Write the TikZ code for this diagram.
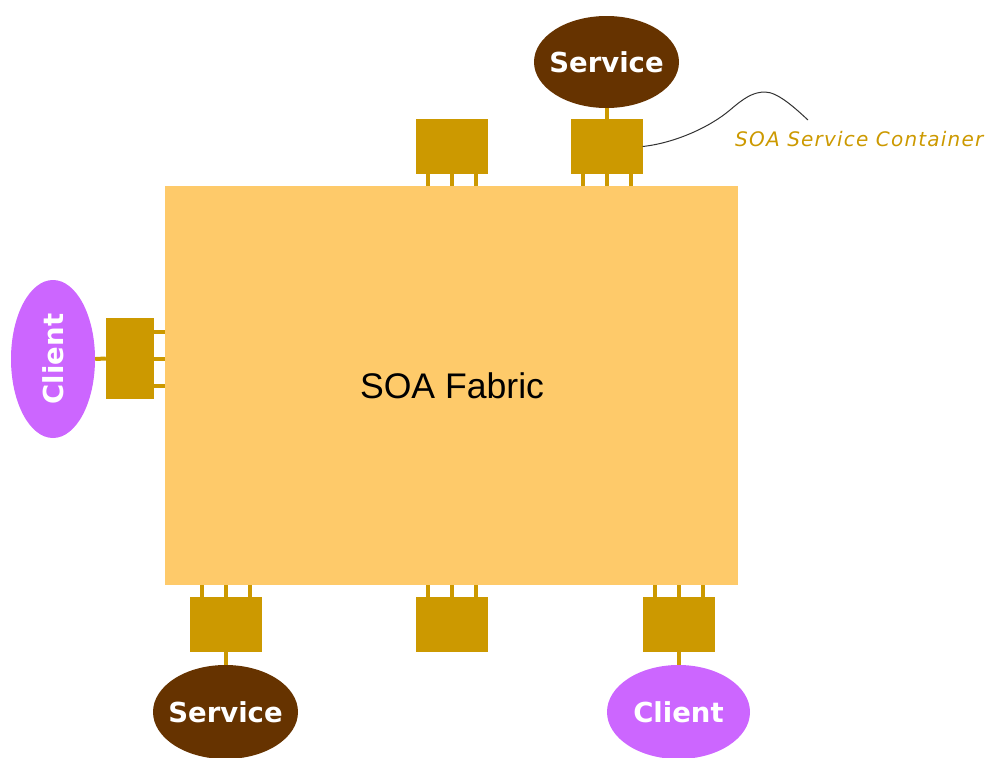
\documentclass[tikz,border=0pt]{standalone}
\usepackage{fontspec}
\setmainfont{Liberation Sans}
\newfontfamily\labelfont{DejaVu Sans}
\usetikzlibrary{shapes.geometric}
\definecolor{fabriccol}{HTML}{FECA6A}
\definecolor{boxcol}{HTML}{CC9900}
\definecolor{servcol}{HTML}{663300}
\definecolor{clientcol}{HTML}{CC66FF}
\tikzset{
  fabricbox/.style={fill=fabriccol, draw=none, minimum width=573pt, minimum height=399pt, inner sep=0},
  contbox/.style={fill=boxcol, draw=none, minimum width=72pt, minimum height=55pt, inner sep=0},
  contboxv/.style={fill=boxcol, draw=none, minimum width=48pt, minimum height=81pt, inner sep=0},
  pinline/.style={draw=boxcol, line width=4pt},
  elltext/.style={text=white, font=\labelfont\bfseries\fontsize{27.5}{30}\selectfont, inner sep=0},
  servell/.style={ellipse, fill=servcol, draw=none, minimum width=145pt, minimum height=92pt, inner sep=0},
  clientell/.style={ellipse, fill=clientcol, draw=none, minimum width=143pt, minimum height=94pt, inner sep=0},
}
\begin{document}
\begin{tikzpicture}[x=1pt,y=-1pt]
\useasboundingbox (0,0) rectangle (989,758);
% fabric
\node[fabricbox] (fab) at (451.5,385.5) {};
\node[font=\fontsize{35.6}{40}\selectfont] (fabtxt) at (452,386) {SOA Fabric};
% top containers
\node[contbox] (c1) at (452,146.5) {};
\node[contbox] (c2) at (606.5,146.5) {};
% bottom containers
\node[contbox] (c3) at (225.5,624.5) {};
\node[contbox] (c4) at (452,624.5) {};
\node[contbox] (c5) at (678.5,624.5) {};
% left container
\node[contboxv] (c6) at (130,358.5) {};
% pins
\foreach \c in {c1,c2} {
  \foreach \d in {-24,0,24}
    \draw[pinline] ([xshift=\d pt]\c.south) -- ([xshift=\d pt]\c.south |- fab.north);
}
\foreach \c in {c3,c4,c5} {
  \foreach \d in {-24,0,24}
    \draw[pinline] ([xshift=\d pt]\c.north) -- ([xshift=\d pt]\c.north |- fab.south);
}
\foreach \d in {-27,0,27}
  \draw[pinline] ([yshift=\d pt]c6.east) -- ([yshift=\d pt]c6.east -| fab.west);
% endpoints
\node[servell, label={[elltext]center:Service}] (s1) at (606.5,62) {};
\node[servell, minimum height=94pt, label={[elltext]center:Service}] (s2) at (225.5,712) {};
\node[clientell, label={[elltext]center:Client}] (cl2) at (678.5,712) {};
\node[clientell, minimum width=158pt, minimum height=84pt, rotate=90, label={[elltext, rotate=90]center:Client}] (cl1) at (53,359) {};
\draw[pinline] (s1.south) -- (c2.north);
\draw[pinline] (s2.north) -- (c3.south);
\draw[pinline] (cl2.north) -- (c5.south);
\draw[pinline] (cl1.south) -- (c6.west);
% annotation
\coordinate (tail) at (808,120);
\draw[black!80, line width=1pt] (c2.east) .. controls (675,143) and (710,127) .. (730,110)
   .. controls (744,98) and (753,92) .. (765,92)
   .. controls (778,92) and (796,109) .. (tail);
\node[anchor=base west, inner sep=0, text=boxcol, font=\labelfont\itshape\addfontfeature{LetterSpace=6}\fontsize{20}{22}\selectfont] (ann) at (735,146) {SOA Service Container};
\end{tikzpicture}
\end{document}
